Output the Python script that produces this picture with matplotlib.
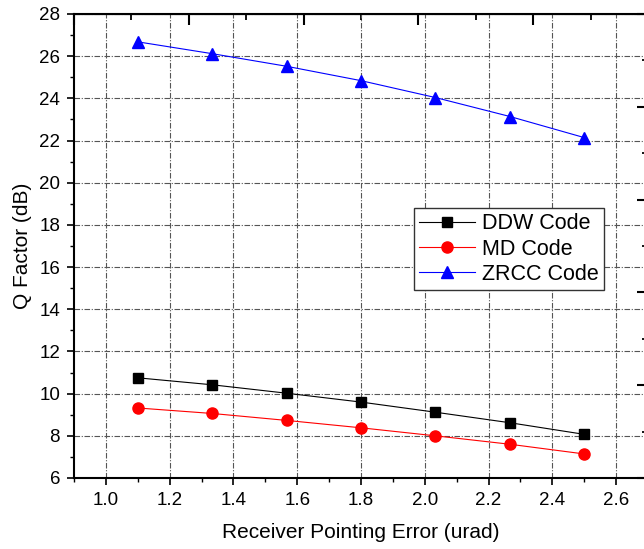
import numpy as np
import matplotlib.pyplot as plt
from matplotlib.ticker import MultipleLocator, AutoMinorLocator

plt.rcParams['font.family'] = ['Liberation Sans', 'DejaVu Sans']

# data
pointing_error = [1.1, 1.333, 1.567, 1.8, 2.033, 2.267, 2.5]
ddw_q = [10.75, 10.42, 10.02, 9.6, 9.12, 8.62, 8.07]
md_q = [9.32, 9.06, 8.73, 8.38, 8.0, 7.6, 7.14]
zrcc_q = [26.68, 26.12, 25.52, 24.84, 24.04, 23.14, 22.14]

x_range = (0.9, 2.7)
y_range = (6, 28)

fig = plt.figure(figsize=(6.44, 5.49), dpi=100)
ax = fig.add_axes([74 / 644, 71 / 549, 574 / 644, 464 / 549])

ax.plot(pointing_error, ddw_q, color='black', lw=0.8, marker='s', ms=7, label='DDW Code')
ax.plot(pointing_error, md_q, color='#ff0000', lw=0.8, marker='o', ms=8, label='MD Code')
ax.plot(pointing_error, zrcc_q, color='#0000ff', lw=0.8, marker='^', ms=9, label='ZRCC Code')

ax.set_xlim(*x_range)
ax.set_ylim(*y_range)
ax.xaxis.set_major_locator(MultipleLocator(0.2))
ax.xaxis.set_minor_locator(AutoMinorLocator(2))
ax.yaxis.set_major_locator(MultipleLocator(2))
ax.yaxis.set_minor_locator(AutoMinorLocator(2))
ax.tick_params(which='major', direction='out', length=5, width=1.2, labelsize=13.5, pad=5)
ax.tick_params(which='minor', direction='out', length=3, width=1.0)

ax.grid(True, which='major', color='#555555', lw=0.8, linestyle=(0, (5, 1.5, 1, 1.5)))
for sp in ax.spines.values():
    sp.set_linewidth(1.5)

ax.set_xlabel('Receiver Pointing Error (urad)', fontsize=15, labelpad=10)
ax.set_ylabel('Q Factor (dB)', fontsize=15, labelpad=5)

# mirrored axes (Origin style, own tick spacing)
top = ax.secondary_xaxis('top')
top.set_xticks(np.linspace(x_range[0], x_range[1], 6))
top.set_xticks(np.linspace(x_range[0], x_range[1], 11), minor=True)
top.xaxis.set_tick_params(which='major', direction='in', length=8, width=1.5,
                          labeltop=False, labelbottom=False)
top.xaxis.set_tick_params(which='minor', direction='in', length=4, width=1.3)

right = ax.secondary_yaxis('right')
right.set_yticks(np.linspace(y_range[0], y_range[1], 6))
right.set_yticks(np.linspace(y_range[0], y_range[1], 11), minor=True)
right.tick_params(which='major', direction='in', length=8, width=1.5, labelright=False)
right.tick_params(which='minor', direction='in', length=4, width=1.3)

leg = ax.legend(loc='upper left', bbox_to_anchor=(414 / 644, 1 - 208 / 549),
                bbox_transform=fig.transFigure, fontsize=15.5, frameon=True,
                fancybox=False, edgecolor='#333333', framealpha=1,
                handlelength=2.6, handletextpad=0.3, labelspacing=0.2,
                borderpad=0.25, borderaxespad=0)
leg.get_frame().set_linewidth(1.0)

fig.savefig('out.png', dpi=100)
